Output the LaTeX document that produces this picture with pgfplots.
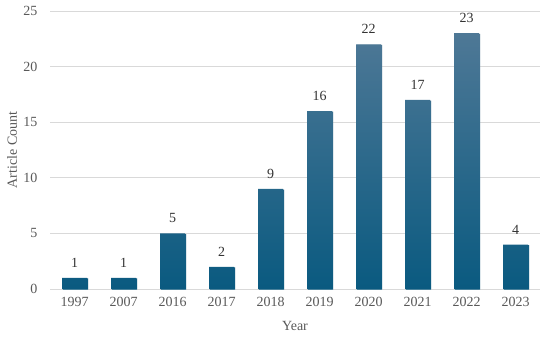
\documentclass[border=0pt]{standalone}
\usepackage{fontspec}
\setmainfont{Liberation Serif}
\usepackage{pgfplots}
\pgfplotsset{compat=1.18}
\definecolor{bartop}{HTML}{4E7896}
\definecolor{barbot}{HTML}{0A5A80}
\definecolor{txt}{HTML}{595959}
\definecolor{gridc}{HTML}{D9D9D9}
\begin{document}
\begin{tikzpicture}
\useasboundingbox (-50bp,-50bp) rectangle (500bp,289bp);
\begin{axis}[
  at={(0,0)}, anchor=south west,
  scale only axis, width=490bp, height=278bp,
  xmin=-0.5, xmax=9.5, ymin=0, ymax=25,
  ytick={0,5,...,25},
  xtick=data,
  xticklabels={1997,2007,2016,2017,2018,2019,2020,2021,2022,2023},
  ybar, bar width=25bp,
  axis lines*=left,
  y axis line style={draw=none},
  x axis line style={draw=gridc, line width=0.8bp},
  major tick length=0pt,
  ymajorgrids, grid style={draw=gridc, line width=0.8bp},
  tick label style={font=\fontsize{14bp}{16bp}\selectfont, text=txt},
  xticklabel style={yshift=-5bp},
  yticklabel style={xshift=-9bp},
  /pgf/number format/assume math mode=true,
  xlabel={Year}, ylabel={Article Count},
  label style={font=\fontsize{14bp}{16bp}\selectfont, text=txt},
  xlabel style={at={(axis description cs:0.5,-0.133)}, anchor=center},
  ylabel style={at={(axis description cs:-0.0776,0.5)}, anchor=center},
  nodes near coords,
  nodes near coords style={font=\fontsize{14bp}{16bp}\selectfont, text=black!80, yshift=7bp},
]
\addplot[draw=none, top color=bartop, bottom color=barbot,
  preaction={fill=black!12, transform canvas={xshift=1.2bp, yshift=-0.6bp}}]
  coordinates {(0,1)(1,1)(2,5)(3,2)(4,9)(5,16)(6,22)(7,17)(8,23)(9,4)};
\end{axis}
\end{tikzpicture}
\end{document}
